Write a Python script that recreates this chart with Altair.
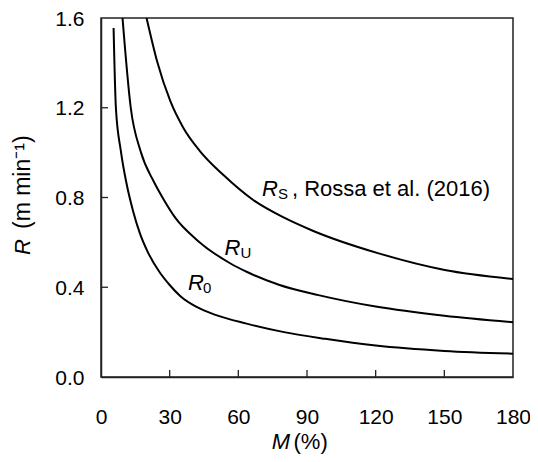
import altair as alt
import pandas as pd

# ---- data ----
r0_M = [5.5, 6.5, 8.7, 11, 14, 17, 20.3, 25.4, 30, 34.7, 42, 50, 63.6, 80, 98, 120, 150, 180]
r0_R = [1.555, 1.2, 1.006, 0.87, 0.74, 0.64, 0.56, 0.47, 0.41, 0.36, 0.311, 0.277, 0.238, 0.2, 0.17, 0.14, 0.116, 0.104]

ru_M = [9.4, 13, 17.3, 23.1, 27.5, 32.5, 42, 56.4, 63.6, 78, 95, 120, 150, 180]
ru_R = [1.6, 1.2, 1.006, 0.87, 0.789, 0.709, 0.61, 0.507, 0.469, 0.41, 0.365, 0.314, 0.273, 0.244]

rs_M = [19.9, 24.5, 30.3, 36, 43.3, 53.5, 66.5, 80, 92.5, 121.3, 150.2, 180]
rs_R = [1.6, 1.407, 1.229, 1.11, 1.006, 0.9, 0.789, 0.71, 0.652, 0.551, 0.477, 0.437]

x_ticks = [0, 30, 60, 90, 120, 150, 180]
y_ticks = [0.0, 0.4, 0.8, 1.2, 1.6]

FONT = "Liberation Sans"
INK = "#222222"
W, H = 412, 359

curves = pd.concat([
    pd.DataFrame({"M": r0_M, "R": r0_R, "curve": "R0"}),
    pd.DataFrame({"M": ru_M, "R": ru_R, "curve": "RU"}),
    pd.DataFrame({"M": rs_M, "R": rs_R, "curve": "RS"}),
])

sx = alt.Scale(domain=[0, 180], nice=False, zero=False)
sy = alt.Scale(domain=[0, 1.6], nice=False, zero=False)
ax_x = alt.Axis(values=x_ticks, format="d", title=None, grid=False, tickSize=0,
                labelPadding=29, labelFlush=False)
ax_y = alt.Axis(values=y_ticks, format=".1f", title=None, grid=False, tickSize=0,
                labelPadding=17, labelOffset=1, labelFlush=False)


def X(f="M:Q"):
    return alt.X(f, scale=sx, axis=ax_x)


def Y(f="R:Q"):
    return alt.Y(f, scale=sy, axis=ax_y)


lines = alt.Chart(curves).mark_line(
    color="black", strokeWidth=2, interpolate="monotone"
).encode(x=X(), y=Y(), detail="curve:N")

# inward tick marks
yt = alt.Chart(pd.DataFrame({"R": y_ticks[1:-1]})).mark_rule(color=INK, strokeWidth=1.3).encode(
    y=Y(), x=alt.value(0), x2=alt.value(7))
xt = alt.Chart(pd.DataFrame({"M": x_ticks[1:-1]})).mark_rule(color=INK, strokeWidth=1.3).encode(
    x=X(), y=alt.value(H), y2=alt.value(H - 7))


def label(M, R, pieces):
    df = pd.DataFrame({"M": [M], "R": [R]})
    out = []
    for text, size, italic, dx, dy in pieces:
        out.append(alt.Chart(df).mark_text(
            text=text, font=FONT, fontSize=size,
            fontStyle="italic" if italic else "normal",
            align="left", baseline="middle", dx=dx, dy=dy, color="black"
        ).encode(x=X(), y=Y()))
    return out


lab_s = label(70.3, 0.836, [("R", 22, True, 0, 0), ("S", 15, False, 16, 5),
                             (", Rossa et al. (2016)", 22, False, 30, 0)])
lab_u = label(54.0, 0.577, [("R", 22, True, 0, 0), ("U", 15, False, 16, 5)])
lab_0 = label(38.0, 0.4175, [("R", 22, True, 0, 0), ("0", 15, False, 15, 5)])


def free_text(text, x, y, size=22, italic=False, align="left", angle=0):
    return alt.Chart(pd.DataFrame({"a": [0]})).mark_text(
        text=text, font=FONT, fontSize=size,
        fontStyle="italic" if italic else "normal",
        align=align, baseline="middle", angle=angle, color="black"
    ).encode(x=alt.value(x), y=alt.value(y))


titles = [
    free_text("M", 189, 424, italic=True, align="right"),
    free_text("(%)", 192.5, 424),
    free_text("R", -78, 237, italic=True, angle=270),
    free_text("(m  min\u207b\u00b9)", -78, 211, size=23, angle=270),
]

chart = alt.layer(lines, yt, xt, *lab_s, *lab_u, *lab_0, *titles).properties(
    width=W, height=H,
    padding={"left": 93, "top": 10, "right": 17, "bottom": 77},
    autosize=alt.AutoSizeParams(type="none"),
    background="white",
).configure_view(stroke=INK, strokeWidth=1.5).configure_axis(
    labelFont=FONT, labelFontSize=21, labelColor="black",
    domainColor=INK, domainWidth=1.5, labelOverlap=False,
)

chart.save("out.html", embed_options={"renderer": "svg", "actions": False})
